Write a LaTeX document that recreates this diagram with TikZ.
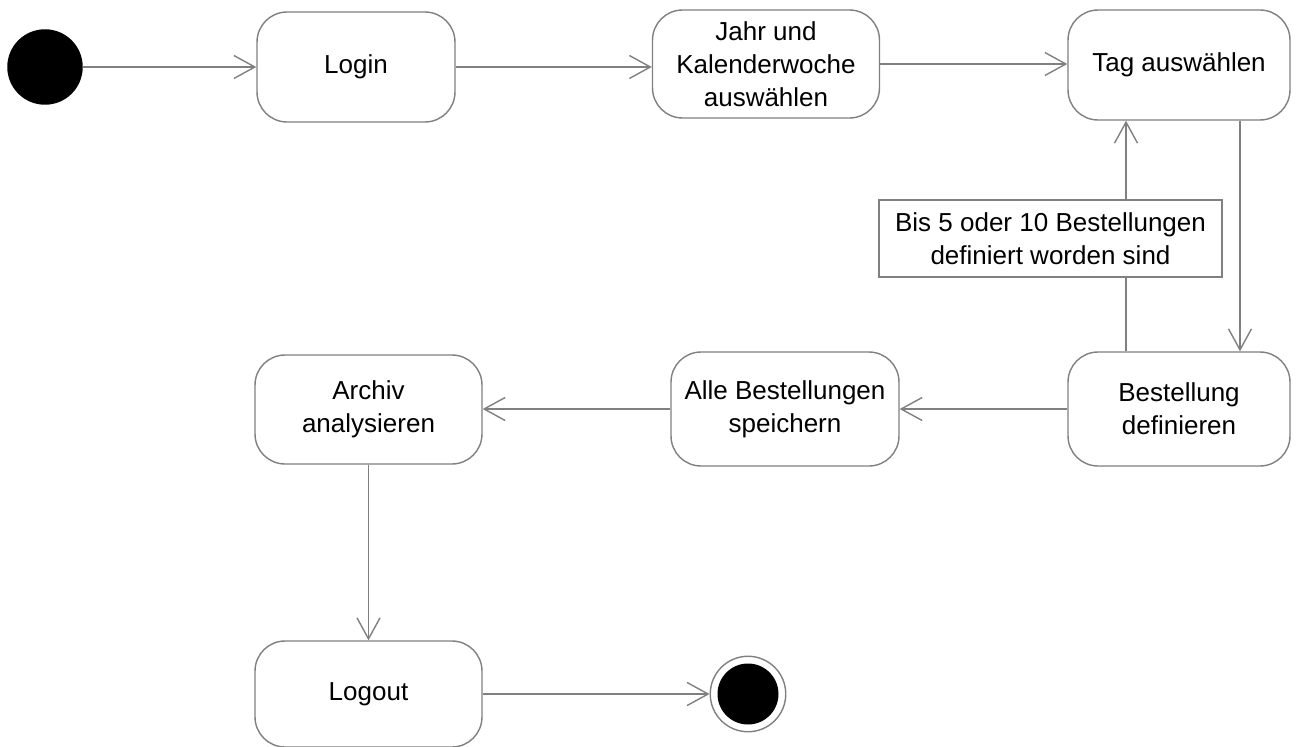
\documentclass[tikz,border=0pt]{standalone}
\usepackage{fontspec}
\setmainfont{Liberation Sans}
\usetikzlibrary{arrows.meta}
\definecolor{linie}{RGB}{128,128,128}

\begin{document}
\begin{tikzpicture}[x=0.02cm,y=-0.02cm,
		zustand/.style={draw=linie, line width=0.8pt, rounded corners=0.6cm, fill=white, align=center, inner sep=0pt, font=\fontsize{14.8}{18.7}\selectfont},
		hinweis/.style={draw=linie, line width=0.8pt, fill=white, align=center, inner sep=0pt, minimum width=6.86cm, minimum height=1.54cm, font=\fontsize{14.8}{18.7}\selectfont},
		pfeil/.style={draw=linie, line width=0.8pt, -{Straight Barb[length=0.42cm, width=0.46cm, line width=0.8pt]}}]
				
				\useasboundingbox (0,0) rectangle (1298,747);
				
				\node[circle, fill=black, minimum size=1.51cm, inner sep=0pt] (start) at (45,67) {};
				\node[zustand, minimum width=3.96cm, minimum height=2.2cm] (login) at (356,67) {Login};
				\node[zustand, minimum width=4.54cm, minimum height=2.16cm] (woche) at (766,64) {Jahr und\\Kalenderwoche\\auswählen};
				\node[zustand, minimum width=4.44cm, minimum height=2.2cm] (tag) at (1179,65) {Tag auswählen};
				\node[zustand, minimum width=4.44cm, minimum height=2.28cm] (bestellung) at (1179,409) {Bestellung\\definieren};
				\node[zustand, minimum width=4.56cm, minimum height=2.28cm] (speichern) at (785,409) {Alle Bestellungen\\speichern};
				\node[zustand, minimum width=4.54cm, minimum height=2.18cm] (archiv) at (368.5,409.5) {Archiv\\analysieren};
				\node[zustand, minimum width=4.54cm, minimum height=2.12cm] (logout) at (368.5,694) {Logout};
				\node[circle, draw=linie, line width=0.8pt, minimum size=1.51cm, inner sep=0pt] (ende) at (748,694) {};
				\fill (ende) circle[radius=0.61cm];
				
				\draw[pfeil] (start) -- (login);
				\draw[pfeil] (login) -- (woche.west |- login);
				\draw[pfeil] (woche) -- (tag.west |- woche);
				\draw[pfeil] ([xshift=1.22cm]tag.south) -- ([xshift=1.22cm]bestellung.north);
				\draw[pfeil] ([xshift=-1.06cm]bestellung.north) -- ([xshift=-1.06cm]tag.south);
				\draw[pfeil] (bestellung) -- (speichern);
				\draw[pfeil] (speichern) -- (archiv.east |- speichern);
				\draw[pfeil] (archiv) -- (logout);
				\draw[pfeil] (logout.east |- ende) -- (ende);
				
				\node[hinweis] (bed) at (1050.5,238.5) {Bis 5 oder 10 Bestellungen\\definiert worden sind};
			\end{tikzpicture}
\end{document}
